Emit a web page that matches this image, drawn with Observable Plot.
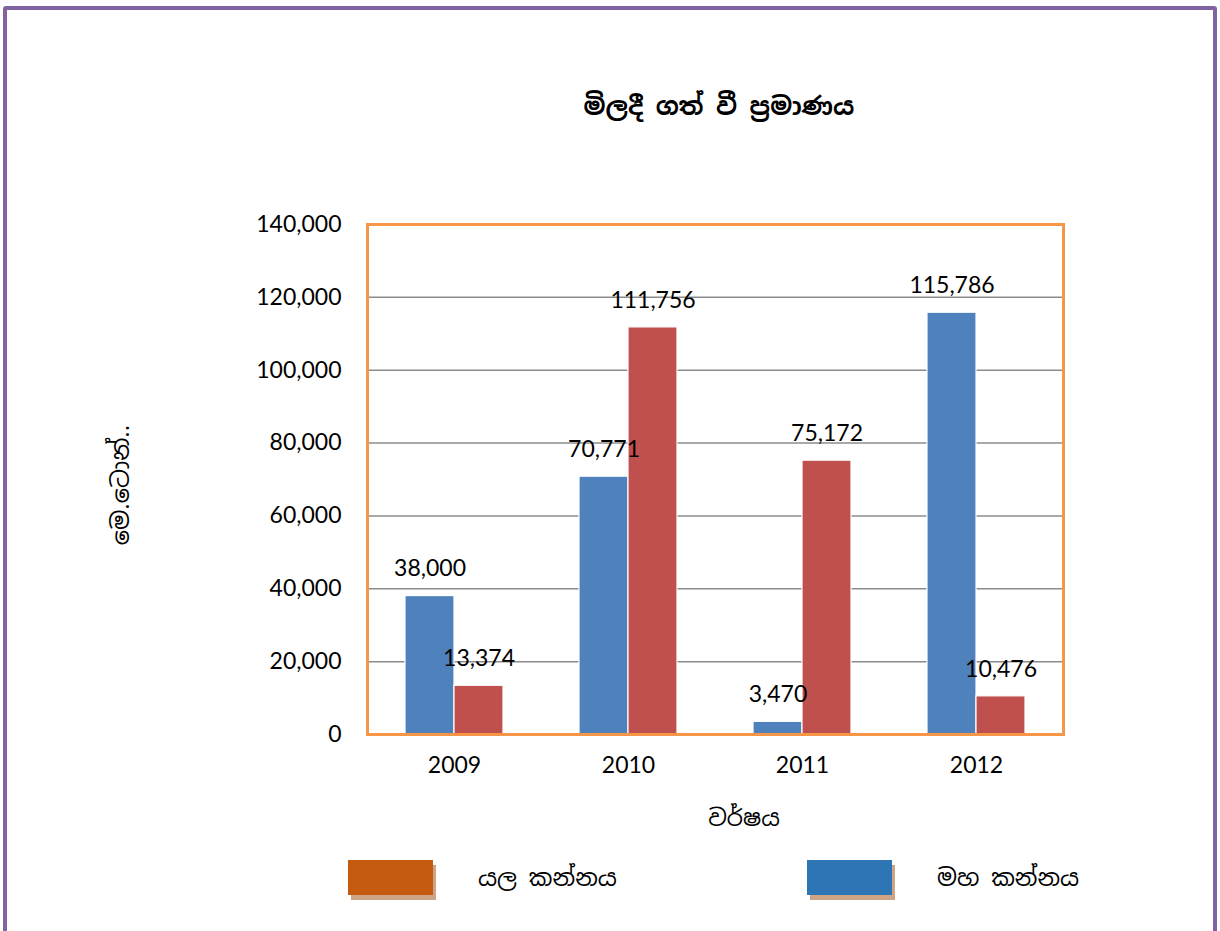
<!DOCTYPE html>
<html>
<head>
<meta charset="utf-8">
<script src="https://cdn.jsdelivr.net/npm/d3@7"></script>
<script src="https://cdn.jsdelivr.net/npm/@observablehq/plot@0.6"></script>
<style>
  body { margin: 0; background: #fff; }
  #page { position: relative; width: 1220px; height: 931px; overflow: hidden; font-family: "Noto Sans Sinhala", "Iskoola Pota", "Noto Sans", sans-serif; color: #000; }
  #border { position: absolute; left: 3px; top: 6px; width: 1206px; height: 960px; border: 4px solid #8064A2; border-radius: 3px; }
  #title { position: absolute; top: 90px; left: 0; width: 1438px; text-align: center; font-size: 25px; font-weight: bold; }
  #chart { position: absolute; left: 0; top: 150px; }
  #ylabel { position: absolute; left: 120px; top: 485px; transform: translate(-50%, -50%) rotate(-90deg); font-size: 24px; white-space: nowrap; }
  #xlabel { position: absolute; left: 744px; top: 818px; transform: translate(-50%, -50%); font-size: 23px; }
  .leg { position: absolute; top: 860px; display: flex; align-items: center; }
  .sw { width: 85px; height: 35px; box-shadow: 3px 5px 0 #CDA586; }
  .lt { font-size: 23.5px; margin-left: 45px; }
</style>
</head>
<body>
<div id="page">
  <div id="border"></div>
  <div id="title"></div>
  <div id="chart"></div>
  <div id="ylabel"></div>
  <div id="xlabel"></div>
  <div class="leg" style="left:348px"><div class="sw" style="background:#C55A11"></div><div class="lt" id="leg1"></div></div>
  <div class="leg" style="left:807px"><div class="sw" style="background:#2E75B6"></div><div class="lt" id="leg2"></div></div>
</div>
<script>
const title = "මිලදී ගත් වී ප්‍රමාණය";
const yLabel = "මෙ.ටොන්..";
const xLabel = "වර්ෂය";
const years = ["2009", "2010", "2011", "2012"];
const seriesNames = ["මහ කන්නය", "යල කන්නය"];
const mahaValues = [38000, 70771, 3470, 115786];
const yalaValues = [13374, 111756, 75172, 10476];
const yTicks = [0, 20000, 40000, 60000, 80000, 100000, 120000, 140000];
const gridTicks = [20000, 40000, 60000, 80000, 100000, 120000];
const barColors = ["#4F81BD", "#C0504D"];
const legendLabels = ["යල කන්නය", "මහ කන්නය"];

document.getElementById("title").textContent = title;
document.getElementById("ylabel").textContent = yLabel;
document.getElementById("xlabel").textContent = xLabel;
document.getElementById("leg1").textContent = legendLabels[0];
document.getElementById("leg2").textContent = legendLabels[1];

const data = [];
years.forEach((y, i) => {
  data.push({year: y, series: seriesNames[0], value: mahaValues[i]});
  data.push({year: y, series: seriesNames[1], value: yalaValues[i]});
});

const fmt = d3.format(",");

const chart = Plot.plot({
  width: 1220,
  height: 650,
  marginLeft: 365,
  marginRight: 156,
  marginTop: 74,
  marginBottom: 66,
  style: { fontFamily: "Lato, 'Open Sans', sans-serif", fontSize: "23px", color: "#000", background: "transparent" },
  fx: { domain: years, padding: 0, label: null, axis: "bottom", tickSize: 0, tickPadding: 22 },
  x: { domain: seriesNames, paddingInner: 0, paddingOuter: 0.75, axis: null },
  y: { domain: [0, 140000], ticks: yTicks, tickFormat: fmt, tickSize: 0, tickPadding: 26, label: null },
  color: { domain: seriesNames, range: barColors },
  marks: [
    Plot.ruleY(gridTicks, { stroke: "#8C8C8C", strokeWidth: 1.5 }),
    Plot.barY(data, { fx: "year", x: "series", y: "value", fill: "series", stroke: "#fff", strokeWidth: 1.2 }),
    Plot.text(data, { fx: "year", x: "series", y: "value", text: d => fmt(d.value), dy: -27, fontSize: 23, fill: "#000" }),
    Plot.frame({ facet: "super", stroke: "#F79646", strokeWidth: 3 })
  ]
});
document.getElementById("chart").appendChild(chart);
</script>
</body>
</html>
